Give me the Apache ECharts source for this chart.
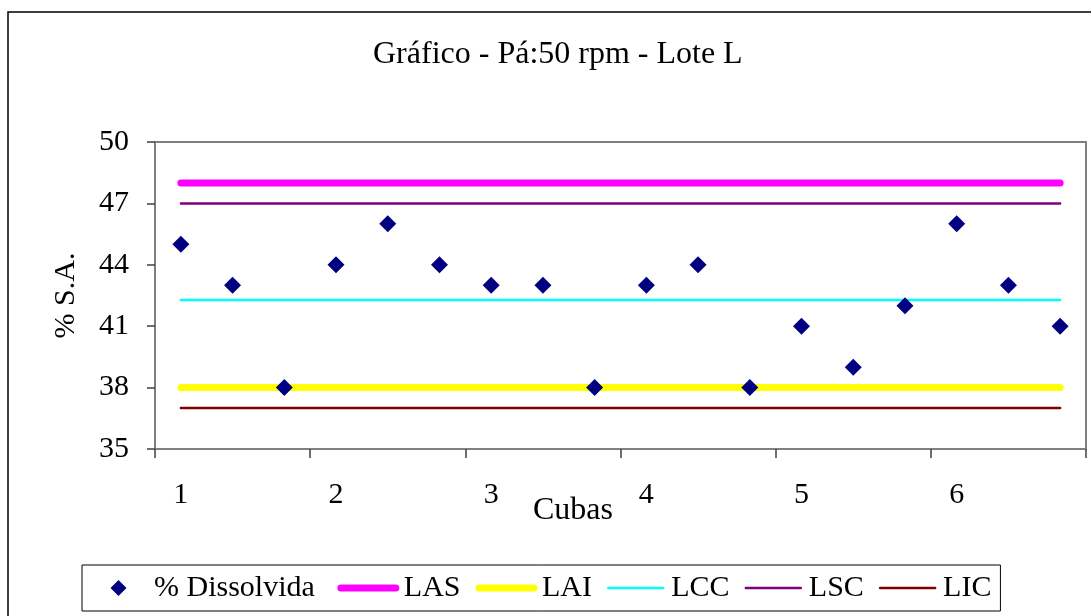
<!DOCTYPE html>
<html>
<head>
<meta charset="utf-8">
<script src="https://cdn.jsdelivr.net/npm/echarts@6/dist/echarts.min.js"></script>
<style>
  html, body { margin: 0; padding: 0; background: #fff; }
  #chart { width: 1091px; height: 616px; }
</style>
</head>
<body>
<div id="chart"></div>
<script>
// One point per sample, three samples per vessel (cuba)
const amostras = ['1','2','3','4','5','6','7','8','9','10','11','12','13','14','15','16','17','18'];
const cubaLabels = ['1', '2', '3', '4', '5', '6'];
const dissolvida = [45, 43, 38, 44, 46, 44, 43, 43, 38, 43, 44, 38, 41, 39, 42, 46, 43, 41];

// Specification and control limits
const las = [48, 48, 48, 48, 48, 48, 48, 48, 48, 48, 48, 48, 48, 48, 48, 48, 48, 48];
const lai = [38, 38, 38, 38, 38, 38, 38, 38, 38, 38, 38, 38, 38, 38, 38, 38, 38, 38];
const lcc = [42.28, 42.28, 42.28, 42.28, 42.28, 42.28, 42.28, 42.28, 42.28, 42.28, 42.28, 42.28, 42.28, 42.28, 42.28, 42.28, 42.28, 42.28];
const lsc = [47, 47, 47, 47, 47, 47, 47, 47, 47, 47, 47, 47, 47, 47, 47, 47, 47, 47];
const lic = [37, 37, 37, 37, 37, 37, 37, 37, 37, 37, 37, 37, 37, 37, 37, 37, 37, 37];

const FONT = 'Liberation Serif, Times New Roman, serif';
const FS = 30;

const chart = echarts.init(document.getElementById('chart'), null, { renderer: 'canvas' });

function limitLine(name, data, color, width) {
  return {
    name: name,
    type: 'line',
    data: data,
    symbol: 'none',
    silent: true,
    z: 2,
    lineStyle: { color: color, width: width, cap: 'round' },
    itemStyle: { color: color }
  };
}

// Legend entry for a limit line: line icon only, no marker
function lineLegend(name, width) {
  return { name: name, itemStyle: { opacity: 0 }, lineStyle: { width: width, cap: 'round' } };
}

chart.setOption({
  animation: false,
  backgroundColor: '#fff',
  textStyle: { fontFamily: FONT },
  title: {
    text: 'Gráfico - Pá:50 rpm - Lote L',
    left: 373,
    top: 39,
    padding: 0,
    textStyle: { fontFamily: FONT, fontSize: 32, fontWeight: 'normal', color: '#000' }
  },
  graphic: [
    {
      type: 'rect',
      shape: { x: 8, y: 12, width: 1200, height: 700 },
      style: { fill: 'none', stroke: '#000', lineWidth: 1.5 },
      z: 0, silent: true
    },
    {
      type: 'text',
      x: 533, y: 495,
      style: { text: 'Cubas', fontFamily: FONT, fontSize: 32, fill: '#000', textVerticalAlign: 'top' },
      silent: true
    }
  ],
  legend: {
    left: 82,
    top: 565,
    padding: [8, 9, 8, 9],
    itemGap: 15,
    itemWidth: 55,
    itemHeight: 16,
    borderColor: '#000',
    borderWidth: 1,
    backgroundColor: '#fff',
    formatter: function (name) {
      return name === '% Dissolvida' ? name + '{gap| }' : name;
    },
    textStyle: {
      fontFamily: FONT, fontSize: FS, color: '#000', padding: [0, 0, 0, 3],
      rich: { gap: { width: 9, fontFamily: FONT, fontSize: FS } }
    },
    data: [
      {
        name: '% Dissolvida',
        icon: 'path://M0,0M55,16M19.5,8L27.5,0L35.5,8L27.5,16Z',
        itemStyle: { color: '#000080', opacity: 1 }
      },
      lineLegend('LAS', 7),
      lineLegend('LAI', 7),
      lineLegend('LCC', 2.5),
      lineLegend('LSC', 2.5),
      lineLegend('LIC', 2.5)
    ]
  },
  grid: {
    left: 155, right: 5, top: 142, bottom: 167,
    show: true, borderColor: '#808080', borderWidth: 2, backgroundColor: 'transparent'
  },
  xAxis: {
    type: 'category',
    data: amostras,
    boundaryGap: true,
    axisLine: { lineStyle: { color: '#808080', width: 2 } },
    axisTick: { show: true, interval: 2, length: 9, lineStyle: { color: '#404040', width: 1.5 } },
    axisLabel: {
      interval: 2, margin: 31,
      fontFamily: FONT, fontSize: FS, color: '#000',
      formatter: function (v, i) { return cubaLabels[Math.floor(i / 3)]; }
    },
    splitLine: { show: false }
  },
  yAxis: {
    type: 'value',
    min: 35, max: 50, interval: 3,
    name: '% S.A.',
    nameLocation: 'middle',
    nameGap: 74,
    nameTextStyle: { fontFamily: FONT, fontSize: FS, color: '#000' },
    axisLine: { show: true, lineStyle: { color: '#808080', width: 2 } },
    axisTick: { show: true, length: 8, lineStyle: { color: '#404040', width: 1.5 } },
    axisLabel: { margin: 26, fontFamily: FONT, fontSize: FS, color: '#000' },
    splitLine: { show: false }
  },
  series: [
    {
      name: '% Dissolvida',
      type: 'scatter',
      data: dissolvida,
      symbol: 'diamond',
      symbolSize: 17,
      z: 5,
      itemStyle: { color: '#000080', opacity: 1 }
    },
    limitLine('LAS', las, '#FF00FF', 7),
    limitLine('LAI', lai, '#FFFF00', 7),
    limitLine('LCC', lcc, '#00FFFF', 2.5),
    limitLine('LSC', lsc, '#800080', 2.5),
    limitLine('LIC', lic, '#800000', 2.5)
  ]
});
</script>
</body>
</html>
